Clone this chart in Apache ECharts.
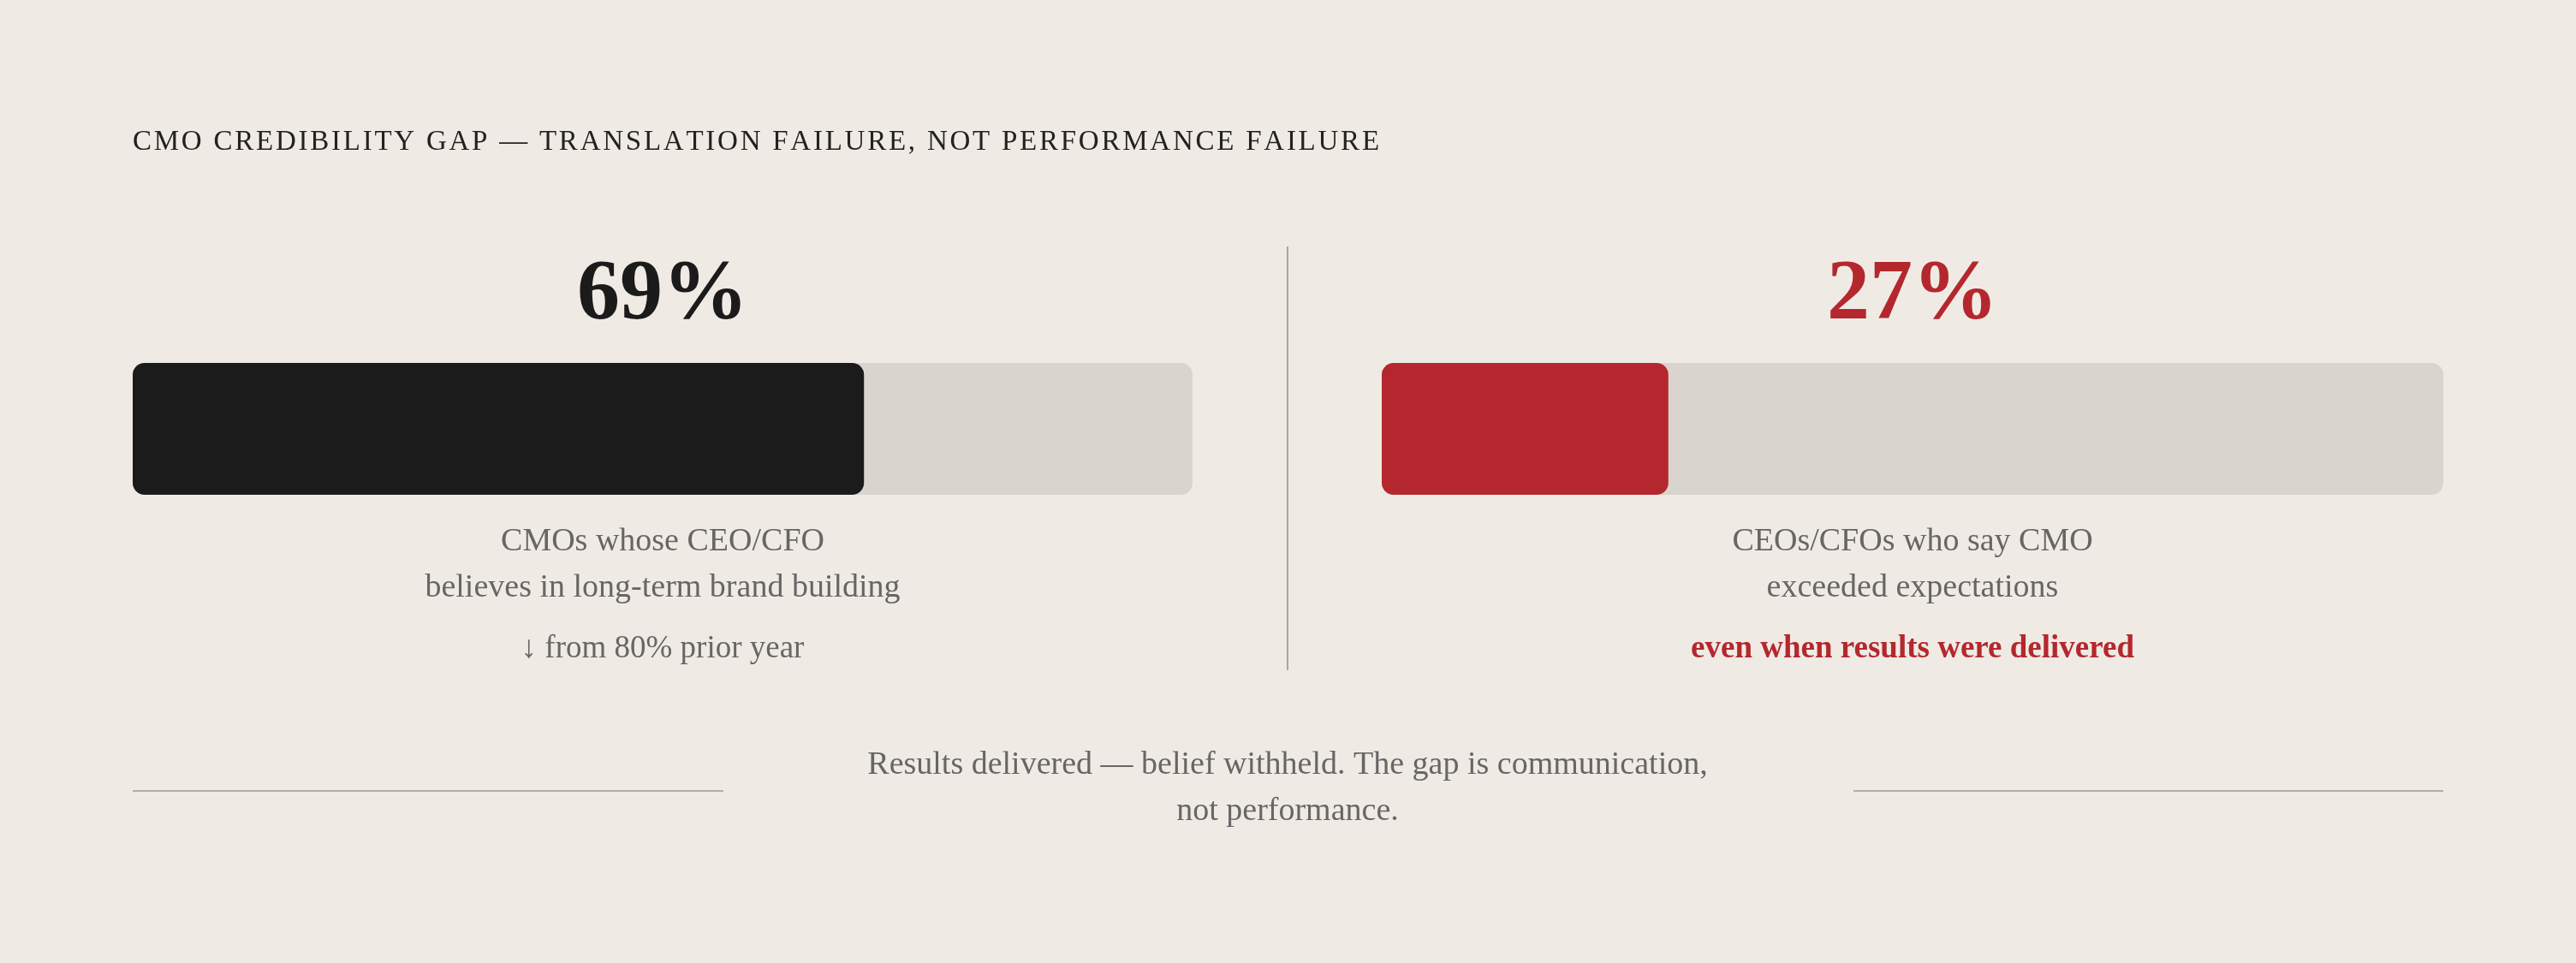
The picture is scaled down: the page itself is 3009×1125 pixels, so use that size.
<!DOCTYPE html>
<html><head><meta charset="utf-8">
<script src="https://cdn.jsdelivr.net/npm/echarts@6/dist/echarts.min.js"></script>
<style>html,body{margin:0;padding:0;background:#efebe4}#c{width:3009px;height:1125px}</style>
</head><body><div id="c"></div>
<script>
const titleText = 'CMO CREDIBILITY GAP — TRANSLATION FAILURE, NOT PERFORMANCE FAILURE';
const values = [69, 27];
const barColors = ['#1b1b1b', '#b5272e'];
const labels = [
  ['CMOs whose CEO/CFO', 'believes in long-term brand building'],
  ['CEOs/CFOs who say CMO', 'exceeded expectations']
];
const notes = ['↓ from 80% prior year', 'even when results were delivered'];
const footer = ['Results delivered — belief withheld. The gap is communication,', 'not performance.'];

const serif = '"Liberation Serif", "DejaVu Serif", serif';
const chart = echarts.init(document.getElementById('c'));
const grids = [{left: 155, width: 1238}, {left: 1614, width: 1240}];
const centers = [774, 2234];

const graphic = [
  {type: 'text', left: 155, top: 150, style: {text: titleText.split('').join('\u200A'), font: '400 33px ' + serif, fill: '#222', letterSpacing: 6}},
  {type: 'line', shape: {x1: 1504, y1: 288, x2: 1504, y2: 783}, style: {stroke: '#aaa59e', lineWidth: 2}},
  {type: 'line', shape: {x1: 155, y1: 924, x2: 845, y2: 924}, style: {stroke: '#b3aea7', lineWidth: 2}},
  {type: 'line', shape: {x1: 2165, y1: 924, x2: 2854, y2: 924}, style: {stroke: '#b3aea7', lineWidth: 2}},
  {type: 'text', x: 1504, y: 894, style: {text: footer[0], font: '38px ' + serif, fill: '#666', align: 'center', verticalAlign: 'middle'}},
  {type: 'text', x: 1504, y: 948, style: {text: footer[1], font: '38px ' + serif, fill: '#666', align: 'center', verticalAlign: 'middle'}}
];
values.forEach((v, i) => {
  graphic.push({type: 'text', x: centers[i], y: 345, style: {text: v + '%', font: 'bold 100px ' + serif, fill: barColors[i], align: 'center', verticalAlign: 'middle'}});
  labels[i].forEach((l, j) => graphic.push({type: 'text', x: centers[i], y: 633 + j * 54, style: {text: l, font: '38px ' + serif, fill: '#666', align: 'center', verticalAlign: 'middle'}}));
  graphic.push({type: 'text', x: centers[i], y: 758, style: {text: notes[i], font: (i ? 'bold ' : '') + '37px ' + serif, fill: i ? '#b5272e' : '#666', align: 'center', verticalAlign: 'middle'}});
});

chart.setOption({
  backgroundColor: '#efebe4',
  animation: false,
  grid: grids.map(g => ({left: g.left, width: g.width, top: 424, height: 154})),
  xAxis: grids.map((g, i) => ({type: 'value', min: 0, max: 100, gridIndex: i, show: false})),
  yAxis: grids.map((g, i) => ({type: 'category', data: [''], gridIndex: i, show: false})),
  series: values.map((v, i) => ({
    type: 'bar', xAxisIndex: i, yAxisIndex: i, data: [v], barWidth: 154,
    showBackground: true,
    backgroundStyle: {color: '#d9d4cd', borderRadius: 14},
    itemStyle: {color: barColors[i], borderRadius: 14}
  })),
  graphic: graphic
});
</script></body></html>
